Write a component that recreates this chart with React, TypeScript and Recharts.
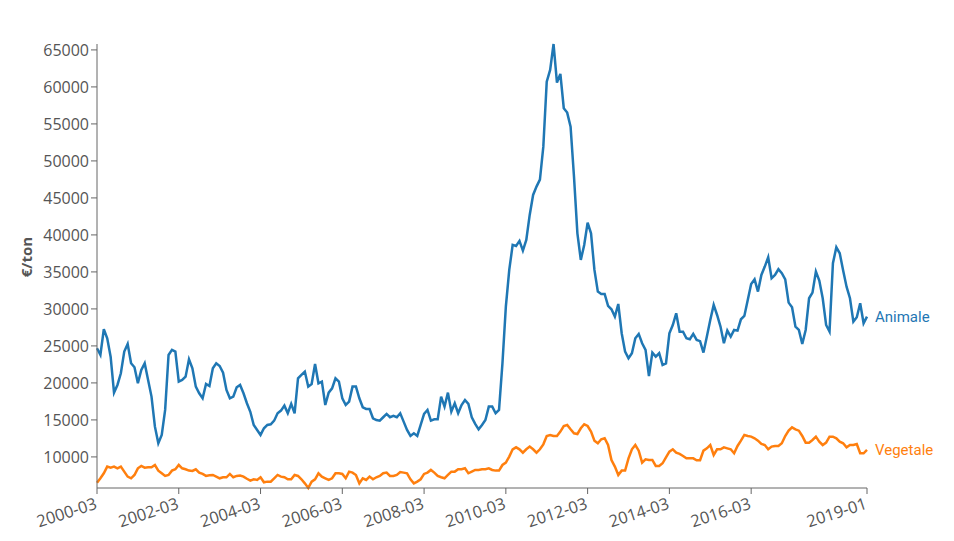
import { LineChart, Line, XAxis, YAxis, LabelList } from 'recharts'

// monthly series, 2000-03 .. 2019-01
const startYear = 2000
const startMonth = 3
const monthCount = 227

const months: string[] = []
for (let i = 0; i < monthCount; i++) {
  const m = startMonth - 1 + i
  const y = startYear + Math.floor(m / 12)
  months.push(`${y}-${String((m % 12) + 1).padStart(2, '0')}`)
}

const animale = [
  24680, 23780, 27250, 26030, 23550, 18690, 19725, 21300, 24230, 25270, 22650, 22110,
  19950, 21750, 22650, 20400, 18150, 14090, 11840, 12970, 16350, 23780, 24460, 24230,
  20180, 20400, 20850, 23200, 21980, 19500, 18600, 17920, 19860, 19590, 21980, 22650,
  22290, 21390, 19050, 17920, 18150, 19410, 19725, 18600, 17250, 16100, 14320, 13640,
  12970, 13870, 14320, 14410, 14900, 15900, 16260, 16930, 15900, 17160, 15900, 20620,
  21080, 21530, 19500, 19860, 22560, 19950, 20180, 17020, 18690, 19270, 20620, 20180,
  17920, 17020, 17470, 19500, 19500, 17920, 16710, 16480, 16480, 15220, 14990, 14900,
  15360, 15810, 15360, 15540, 15360, 15900, 14770, 13640, 12830, 13190, 12830, 14320,
  15810, 16350, 14900, 15080, 15080, 18150, 16800, 18690, 16120, 17250, 15900, 17020,
  17700, 17160, 15360, 14460, 13730, 14320, 14990, 16800, 16800, 15900, 16350, 22650,
  30310, 35270, 38650, 38510, 39190, 37880, 39320, 42700, 45400, 46530, 47480, 51930,
  60720, 62300, 65800, 60590, 61760, 57120, 56530, 54640, 47880, 40220, 36620, 38650,
  41660, 40220, 35270, 32340, 32020, 32020, 30400, 29950, 28960, 30670, 26710, 24230,
  23330, 24010, 26030, 26620, 25360, 24460, 20940, 24100, 23550, 24010, 22430, 22650,
  26710, 27830, 29410, 26930, 26930, 26030, 25900, 26620, 25810, 25650, 24100, 26260,
  28510, 30540, 29180, 27610, 25360, 27070, 26260, 27160, 27070, 28600, 29050, 31210,
  33370, 34000, 32340, 34590, 35720, 36980, 34140, 34590, 35360, 34820, 34000, 30850,
  30220, 27610, 27160, 25270, 27160, 31440, 32200, 35040, 33830, 31440, 27830, 26930,
  36170, 38330, 37520, 35180, 33010, 31440, 28280, 28870, 30760, 28060, 28960,
]

const vegetale = [
  6520, 7110, 7790, 8690, 8550, 8690, 8460, 8690, 8010, 7340, 7110, 7560,
  8460, 8780, 8550, 8600, 8600, 8910, 8150, 7790, 7430, 7560, 8150, 8330,
  8910, 8460, 8330, 8150, 8100, 8330, 7880, 7700, 7430, 7520, 7560, 7340,
  7110, 7250, 7250, 7700, 7250, 7430, 7480, 7340, 7050, 6800, 6980, 6890,
  7250, 6570, 6660, 6660, 7110, 7560, 7340, 7250, 6980, 6980, 7560, 7430,
  6980, 6430, 5800, 6660, 6980, 7790, 7340, 7110, 6890, 7110, 7790, 7790,
  7700, 7110, 8010, 7880, 7560, 6430, 7110, 6890, 7340, 6980, 7250, 7430,
  7790, 7880, 7430, 7430, 7560, 7950, 7880, 7790, 6980, 6430, 6660, 6980,
  7700, 7880, 8240, 7880, 7430, 7250, 7110, 7560, 8010, 8010, 8330, 8330,
  8460, 7790, 8010, 8240, 8240, 8330, 8330, 8460, 8240, 8150, 8150, 8910,
  9230, 10040, 11030, 11300, 11030, 10580, 11030, 11390, 11030, 10580, 11030, 11700,
  12830, 12970, 12830, 12830, 13420, 14180, 14320, 13730, 13190, 13100, 13870, 14410,
  14180, 13420, 12200, 11840, 12380, 12520, 11610, 9590, 8690, 7560, 8150, 8150,
  9810, 11030, 11610, 10850, 9230, 9680, 9590, 9590, 8780, 8780, 9140, 9950,
  10720, 11030, 10580, 10400, 10130, 9810, 9810, 9810, 9550, 9550, 10850, 11160,
  11610, 10260, 11030, 11030, 11300, 11160, 11030, 10490, 11480, 12200, 12970, 12830,
  12740, 12520, 12200, 11750, 11610, 11030, 11390, 11480, 11480, 11840, 12830, 13550,
  14000, 13730, 13550, 12830, 11930, 11930, 12290, 12740, 12070, 11610, 11930, 12740,
  12740, 12520, 12070, 11840, 11300, 11610, 11610, 11750, 10490, 10490, 10940,
]

const xTicks = ['2000-03', '2002-03', '2004-03', '2006-03', '2008-03', '2010-03', '2012-03', '2014-03', '2016-03', '2019-01']
const yTicks = [10000, 15000, 20000, 25000, 30000, 35000, 40000, 45000, 50000, 55000, 60000, 65000]

const data = months.map((month, i) => ({ month, animale: animale[i], vegetale: vegetale[i] }))

const BLUE = '#1f77b4'
const ORANGE = '#ff7f0e'
const AXIS = '#666'
const TEXT = '#555'

function XTick(props: any) {
  const { x, y, payload } = props
  return (
    <g transform={`translate(${x},${y})`}>
      <text x={-3} y={0} dy={12} textAnchor="end" transform="rotate(-18)" fill={TEXT} fontSize={16.5}>
        {payload.value}
      </text>
    </g>
  )
}

function endLabel(name: string, color: string) {
  return (props: any) => {
    const { x, y, index } = props
    if (index !== monthCount - 1) return null
    return (
      <text x={x + 8} y={y} dominantBaseline="central" fill={color} fontSize={15} fontFamily="Roboto, sans-serif">
        {name}
      </text>
    )
  }
}

export default function App() {
  return (
    <div style={{ position: 'absolute', left: 0, top: 0, fontFamily: '"Open Sans", sans-serif' }}>
      <LineChart width={954} height={541} data={data} margin={{ top: 44, right: 87, left: 0, bottom: 0 }}>
        <XAxis
          dataKey="month"
          ticks={xTicks}
          interval={0}
          height={53}
          tick={<XTick />}
          stroke={AXIS}
        />
        <YAxis
          width={97}
          domain={['dataMin', 'dataMax']}
          ticks={yTicks}
          interval={0}
          tick={{ fill: TEXT, fontSize: 16 }}
          stroke={AXIS}
          label={{
            content: () => (
              <text x={26} y={257} transform="rotate(-90 26 257)" textAnchor="middle" dominantBaseline="central" fill={TEXT} fontSize={15} fontWeight="bold">
                €/ton
              </text>
            ),
          }}
        />
        <Line type="linear" dataKey="animale" stroke={BLUE} strokeWidth={2.5} dot={false} isAnimationActive={false}>
          <LabelList dataKey="animale" content={endLabel('Animale', BLUE)} />
        </Line>
        <Line type="linear" dataKey="vegetale" stroke={ORANGE} strokeWidth={2.5} dot={false} isAnimationActive={false}>
          <LabelList dataKey="vegetale" content={endLabel('Vegetale', ORANGE)} />
        </Line>
      </LineChart>
    </div>
  )
}
